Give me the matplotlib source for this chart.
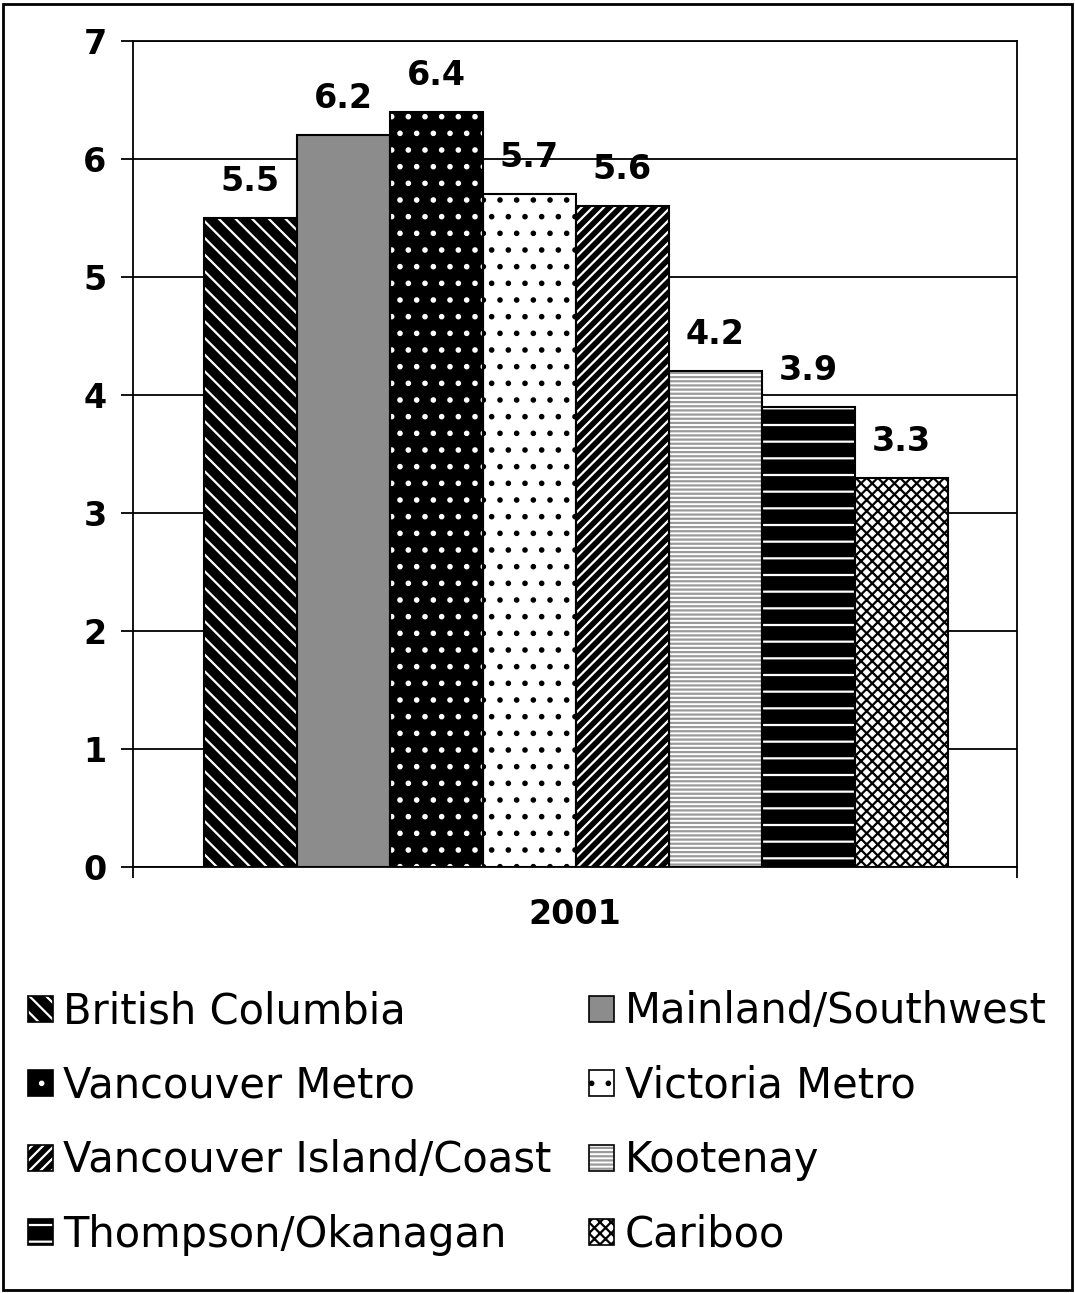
import matplotlib.pyplot as plt
from matplotlib.patches import Patch, Rectangle

regions = [
    "British Columbia",
    "Mainland/Southwest",
    "Vancouver Metro",
    "Victoria Metro",
    "Vancouver Island/Coast",
    "Kootenay",
    "Thompson/Okanagan",
    "Cariboo",
]
values = [5.5, 6.2, 6.4, 5.7, 5.6, 4.2, 3.9, 3.3]
year = "2001"
y_ticks = [0, 1, 2, 3, 4, 5, 6, 7]

# (face colour, hatch colour, hatch)
styles = [
    ("black", "white", "\\\\"),
    ("#8c8c8c", "#8c8c8c", None),
    ("black", "white", "."),
    ("white", "black", "."),
    ("black", "white", "///"),
    ("white", "#9a9a9a", "----"),
    ("black", "white", "-"),
    ("white", "black", "xxx"),
]

plt.rcParams["font.family"] = "DejaVu Sans"
plt.rcParams["hatch.linewidth"] = 1.6

fig = plt.figure(figsize=(10.75, 12.93), dpi=100)
ax = fig.add_axes([0.1237, 0.3295, 0.8223, 0.6388])

bar_w = 0.1052
x0 = 0.0803
for i, (v, (fc, hc, h)) in enumerate(zip(values, styles)):
    x = x0 + bar_w * (i + 0.5)
    ax.bar(x, v, width=bar_w, color=fc, edgecolor=hc, hatch=h, linewidth=0, zorder=2)
    ax.bar(x, v, width=bar_w, fill=False, edgecolor="black", linewidth=1.5, zorder=3)
    ax.text(x, v + 0.17, f"{v:.1f}", ha="center", va="bottom",
            fontsize=24, fontweight="bold", zorder=4)

ax.set_xlim(0, 1)
ax.set_ylim(0, 7)
ax.set_yticks(y_ticks)
ax.set_yticklabels([str(t) for t in y_ticks], fontsize=24, fontweight="bold")
ax.yaxis.grid(True, color="black", linewidth=1.3, zorder=1)
ax.set_axisbelow(True)
ax.tick_params(axis="y", length=9, width=1.3, pad=10)

ax.set_xticks([0, 1])
ax.set_xticklabels(["", ""])
ax.tick_params(axis="x", which="major", length=8, width=1.3, direction="out")
ax.set_xticks([0.5], minor=True)
ax.set_xticklabels([year], minor=True, fontsize=24, fontweight="bold")
ax.tick_params(axis="x", which="minor", length=0, pad=22)

for s in ax.spines.values():
    s.set_linewidth(1.3)

handles = [(Patch(facecolor=fc, edgecolor=hc, hatch=h, linewidth=0),
            Patch(fill=False, edgecolor="black", linewidth=1.2)) for fc, hc, h in styles]
order = [0, 2, 4, 6, 1, 3, 5, 7]
fig.legend([handles[i] for i in order], [regions[i] for i in order],
           loc="upper left", bbox_to_anchor=(0.026, 0.234), ncol=2,
           frameon=False, fontsize=30, handlelength=0.6, handleheight=0.6,
           handletextpad=0.25, columnspacing=0.9, labelspacing=0.78,
           borderaxespad=0, borderpad=0)

fig.patches.append(Rectangle((0.003, 0.002), 0.994, 0.995, transform=fig.transFigure,
                             fill=False, edgecolor="black", linewidth=2))

fig.savefig("out.png", dpi=100)
